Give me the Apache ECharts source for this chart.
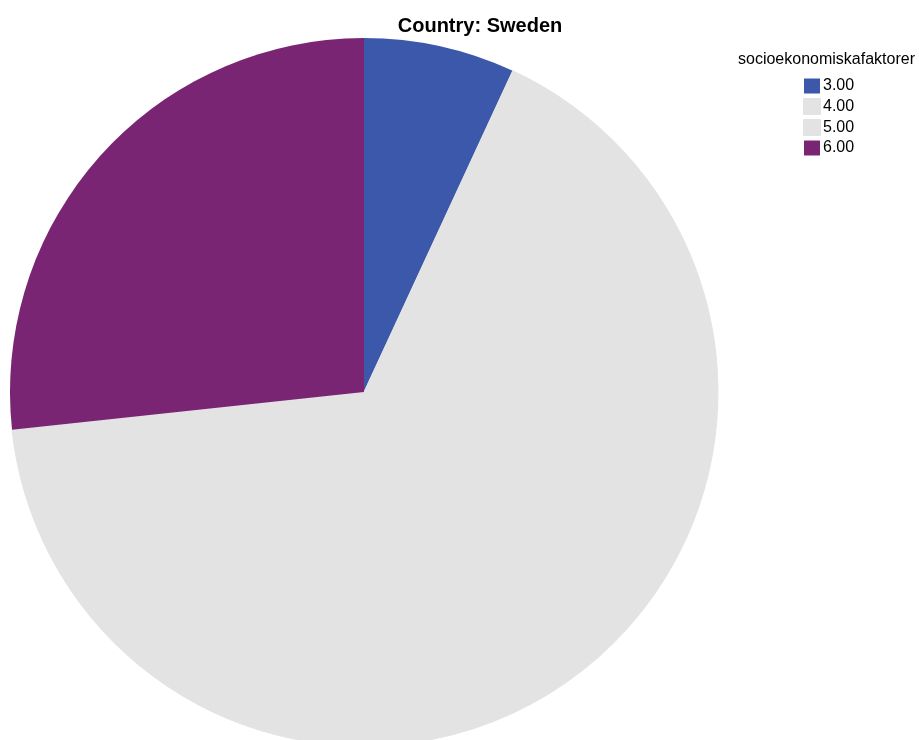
<!DOCTYPE html>
<html>
<head>
<meta charset="utf-8">
<script src="https://cdn.jsdelivr.net/npm/echarts@6/dist/echarts.min.js"></script>
<style>
html, body { margin: 0; padding: 0; background: #fff; }
#chart { width: 919px; height: 740px; }
</style>
</head>
<body>
<div id="chart"></div>
<script>
var chart = echarts.init(document.getElementById('chart'));

// 数据
var categories = ['3.00', '4.00', '5.00', '6.00'];
var values = [6.9, 40.0, 26.4, 26.7];
var colors = ['#3c58aa', '#e3e3e3', '#e3e3e3', '#7a2574'];

var pieData = [];
for (var i = 0; i < categories.length; i++) {
    var gray = colors[i] === '#e3e3e3';
    pieData.push({
        name: categories[i],
        value: values[i],
        itemStyle: {
            color: colors[i],
            // 灰色扇区之间加同色描边，避免出现接缝
            borderColor: colors[i],
            borderWidth: gray ? 1 : 0
        }
    });
}

option = {
    animation: false,
    title: [{
        text: 'Country: Sweden',
        left: 475,
        top: 11,
        textAlign: 'center',
        textStyle: { fontFamily: 'Liberation Sans', fontSize: 20, fontWeight: 'bold', color: '#000' }
    }, {
        text: 'socioekonomiskafaktorer',
        left: 733,
        top: 47,
        textStyle: { fontFamily: 'Liberation Sans', fontSize: 16, fontWeight: 'normal', color: '#000' }
    }],
    legend: {
        orient: 'vertical',
        left: 798,
        top: 73,
        itemWidth: 16,
        itemHeight: 15,
        itemGap: 4,
        icon: 'rect',
        data: categories,
        textStyle: { fontFamily: 'Liberation Sans', fontSize: 16, color: '#000', padding: [0, 0, 0, -2] },
        selectedMode: false
    },
    series: [{
        name: 'socioekonomiskafaktorer',
        type: 'pie',
        center: [364, 392],
        radius: 354,
        startAngle: 90,
        clockwise: true,
        label: { show: false },
        labelLine: { show: false },
        emphasis: { disabled: true },
        data: pieData
    }]
};

chart.setOption(option);
</script>
</body>
</html>
